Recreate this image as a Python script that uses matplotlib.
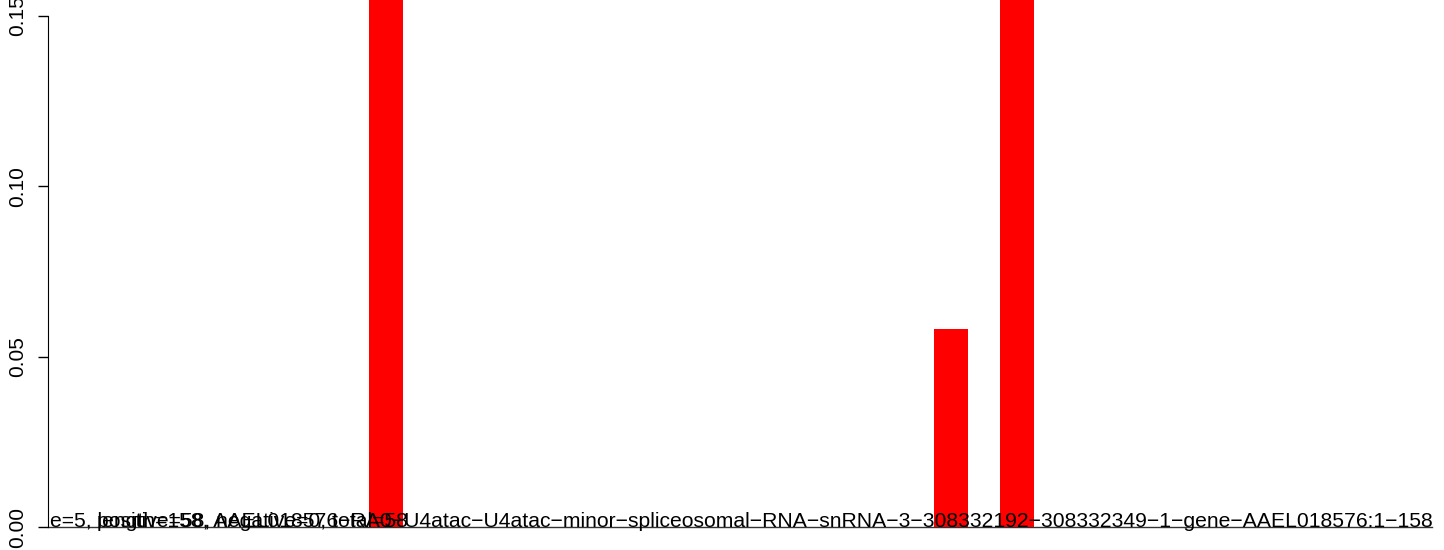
import matplotlib
matplotlib.use("Agg")
import matplotlib.pyplot as plt

plt.rcParams['font.family'] = ['Liberation Sans', 'DejaVu Sans']

# bar positions (left edges, bar units) and heights
positions = [9.44, 26.06, 28.0]
values = [0.20, 0.0582, 0.20]
yticks = [0.00, 0.05, 0.10, 0.15]
ytick_labels = ['0.00', '0.05', '0.10', '0.15']

label_main = ("e=5, length=158, AAEL018576\u2212RA0\u2212U4atac\u2212U4atac\u2212minor\u2212"
              "spliceosomal\u2212RNA\u2212snRNA\u22123\u2212308332192\u2212308332349\u22121\u2212"
              "gene\u2212AAEL018576:1\u2212158")
label_counts = "positive=58, negative=0, total=58"

fig = plt.figure(figsize=(14.44, 5.5), dpi=100)
ax = fig.add_axes([48 / 1444, 23 / 550, 1 - 48 / 1444, 527 / 550])

ax.bar(positions, values, width=1.0, align='edge', color='#ff0000', edgecolor='none')
ax.set_xlim(0, 1396 / 34)
ax.set_ylim(0, 0.1547)

ax.plot([0, 40.7], [0, 0], color='#333333', lw=1.0, clip_on=False)
ax.text(0.06, 0, label_main, fontsize=15.2, ha='left', va='baseline', color='black', clip_on=False)
ax.text(1.44, 0, label_counts, fontsize=15.2, ha='left', va='baseline', color='black', clip_on=False)

for s in ['top', 'right', 'bottom']:
    ax.spines[s].set_visible(False)
ax.spines['left'].set_bounds(0, 0.15)
ax.set_xticks([])
ax.set_yticks(yticks)
ax.set_yticklabels(ytick_labels, rotation=90, va='center', fontsize=15)
ax.tick_params(axis='y', length=7, width=1, pad=8)

fig.savefig('out.png', dpi=100)
